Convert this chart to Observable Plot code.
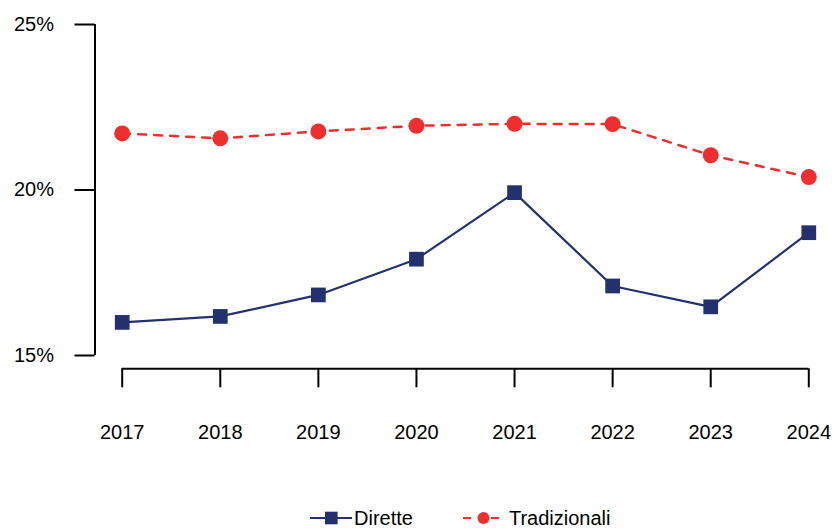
<!DOCTYPE html>
<html>
<head>
<meta charset="utf-8">
<script src="https://cdn.jsdelivr.net/npm/d3@7"></script>
<script src="https://cdn.jsdelivr.net/npm/@observablehq/plot@0.6"></script>
<style>
  html, body { margin: 0; padding: 0; background: #fff; overflow: hidden; }
  body { font-family: "Liberation Sans", Arial, sans-serif; position: relative; width: 832px; height: 528px; }
  #legend { position: absolute; left: 310px; top: 507px; display: flex; align-items: center; font-size: 20px; color: #000; line-height: 22px; }
  .item { display: flex; align-items: center; }
  .item svg { display: block; }
</style>
</head>
<body>
<div id="chart"></div>
<div id="legend"></div>
<script>
const years = [2017, 2018, 2019, 2020, 2021, 2022, 2023, 2024];
const dirette = [16.0, 16.18, 16.83, 17.91, 19.92, 17.1, 16.47, 18.71];
const tradizionali = [21.71, 21.56, 21.77, 21.94, 22.0, 21.99, 21.05, 20.39];
const yTicks = [15, 20, 25];
const seriesNames = ["Dirette", "Tradizionali"];
const colors = ["#23316f", "#ee2f2f"];

const rowsD = years.map((y, i) => ({year: y, value: dirette[i]}));
const rowsT = years.map((y, i) => ({year: y, value: tradizionali[i]}));

const plot = Plot.plot({
  width: 832,
  height: 490,
  marginLeft: 121.7,
  marginRight: 23.7,
  marginTop: 24,
  marginBottom: 135,
  style: {fontFamily: "'Liberation Sans', Arial, sans-serif", fontSize: "20px", color: "#000", background: "#fff"},
  x: {domain: [years[0], years[years.length - 1]], axis: null},
  y: {domain: [yTicks[0], yTicks[yTicks.length - 1]], axis: null},
  marks: [
    Plot.ruleX([years[0]], {y1: yTicks[0], y2: yTicks[yTicks.length - 1], dx: -27.2, stroke: "#000", strokeWidth: 2}),
    Plot.axisY(yTicks, {anchor: "left", label: null, tickSize: 20, dx: -27.2, tickPadding: 21, tickFormat: d => d + "%", fontSize: 20, strokeWidth: 2, stroke: "#000", fill: "#000"}),
    Plot.ruleY([yTicks[0]], {x1: years[0], x2: years[years.length - 1], dy: 13.3, stroke: "#000", strokeWidth: 2}),
    Plot.axisX(years, {anchor: "bottom", label: null, tickSize: 19, dy: 13.3, tickPadding: 37, tickFormat: d => String(d), fontSize: 20, strokeWidth: 2, stroke: "#000", fill: "#000"}),
    Plot.line(rowsT, {x: "year", y: "value", stroke: colors[1], strokeWidth: 2.5, strokeDasharray: "8,8"}),
    Plot.line(rowsD, {x: "year", y: "value", stroke: colors[0], strokeWidth: 2.2}),
    Plot.dot(rowsT, {x: "year", y: "value", r: 8, fill: colors[1], symbol: "circle"}),
    Plot.dot(rowsD, {x: "year", y: "value", r: 8.3, fill: colors[0], symbol: "square"})
  ]
});
document.getElementById("chart").appendChild(plot);

const legend = document.getElementById("legend");
legend.innerHTML = `
  <div class="item">
    <svg width="44" height="22"><line x1="0" y1="11" x2="42" y2="11" stroke="${colors[0]}" stroke-width="2"/><rect x="15" y="4.7" width="12.6" height="12.6" fill="${colors[0]}"/></svg>
    <span>${seriesNames[0]}</span>
  </div>
  <div class="item" style="margin-left:50px">
    <svg width="46" height="22"><line x1="0" y1="11" x2="40" y2="11" stroke="${colors[1]}" stroke-width="2.2" stroke-dasharray="8,6"/><rect x="10" y="5" width="12" height="12" fill="#fff"/><circle cx="20.5" cy="11" r="6" fill="${colors[1]}"/></svg>
    <span>${seriesNames[1]}</span>
  </div>`;
</script>
</body>
</html>
